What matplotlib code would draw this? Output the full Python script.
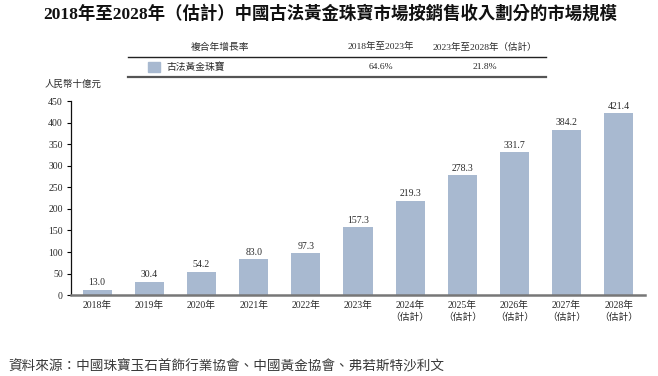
import matplotlib.pyplot as plt
import numpy as np

plt.rcParams['font.family'] = ['Liberation Serif', 'Noto Sans CJK TC']

years = ["2018年", "2019年", "2020年", "2021年", "2022年", "2023年",
         "2024年\n（估計）", "2025年\n（估計）", "2026年\n（估計）",
         "2027年\n（估計）", "2028年\n（估計）"]
values = [13.0, 30.4, 54.2, 83.0, 97.3, 157.3, 219.3, 278.3, 331.7, 384.2, 421.4]
yticks = [0, 50, 100, 150, 200, 250, 300, 350, 400, 450]
cagr_head = ["複合年增長率", "2018年至2023年", "2023年至2028年（估計）"]
cagr_row = ["古法黃金珠寶", "64.6%", "21.8%"]

bar_color = "#a8b9d0"
txt_color = "#2a2a2a"

fig = plt.figure(figsize=(6.58, 3.76), dpi=100)
ax = fig.add_axes([0.108, 0.215, 0.872, 0.516])

x = np.arange(len(values))
ax.bar(x, values, width=0.56, color=bar_color)
for xi, v in zip(x, values):
    ax.text(xi, v + 6, f"{v:.1f}", ha="center", va="bottom", fontsize=7, color=txt_color)

ax.set_xlim(-0.5, len(values) - 0.5)
ax.set_ylim(0, 450)
ax.set_yticks(yticks)
ax.set_xticks(x)
ax.set_xticklabels(years, fontsize=7, linespacing=1.35, color=txt_color)
ax.tick_params(axis="y", labelsize=7, length=3, width=0.8, direction="out", pad=3,
               labelcolor=txt_color)
ax.tick_params(axis="x", length=0, pad=4)
for s in ["top", "right"]:
    ax.spines[s].set_visible(False)
ax.spines["left"].set_color("#111111")
ax.spines["left"].set_linewidth(0.9)
ax.spines["bottom"].set_color("#777777")
ax.spines["bottom"].set_linewidth(1.8)

# title
fig.text(0.502, 0.962, "2018年至2028年（估計）中國古法黃金珠寶市場按銷售收入劃分的市場規模",
         ha="center", va="center", fontsize=12.5, fontweight="bold", color="#111111")

# CAGR table
hy = 1 - 47 / 376
ry = 1 - 67 / 376
fig.text(220 / 658, hy, cagr_head[0], ha="center", va="center", fontsize=7, color=txt_color)
fig.text(381 / 658, hy, cagr_head[1], ha="center", va="center", fontsize=6.8, color=txt_color)
fig.text(485 / 658, hy, cagr_head[2], ha="center", va="center", fontsize=6.8, color=txt_color)
fig.add_artist(plt.Line2D([128 / 658, 546 / 658], [1 - 57 / 376, 1 - 57 / 376],
                          color="#222222", lw=1.0))
fig.add_artist(plt.Rectangle((148 / 658, 1 - 72 / 376), 12 / 658, 10 / 376,
                             color=bar_color))
fig.text(166 / 658, ry, cagr_row[0], ha="left", va="center", fontsize=7, color=txt_color)
fig.text(381 / 658, ry, cagr_row[1], ha="center", va="center", fontsize=6.8, color=txt_color)
fig.text(485 / 658, ry, cagr_row[2], ha="center", va="center", fontsize=6.8, color=txt_color)
fig.add_artist(plt.Line2D([128 / 658, 546 / 658], [1 - 77 / 376, 1 - 77 / 376],
                          color="#555555", lw=1.6))

fig.text(45 / 658, 1 - 84 / 376, "人民幣十億元", ha="left", va="center", fontsize=6.8,
         color=txt_color)

fig.text(8 / 658, 1 - 366 / 376, "資料來源：中國珠寶玉石首飾行業協會、中國黃金協會、弗若斯特沙利文",
         ha="left", va="center", fontsize=9.8, color="#3a3a3a", style="italic")

fig.savefig("out.png", dpi=100)
